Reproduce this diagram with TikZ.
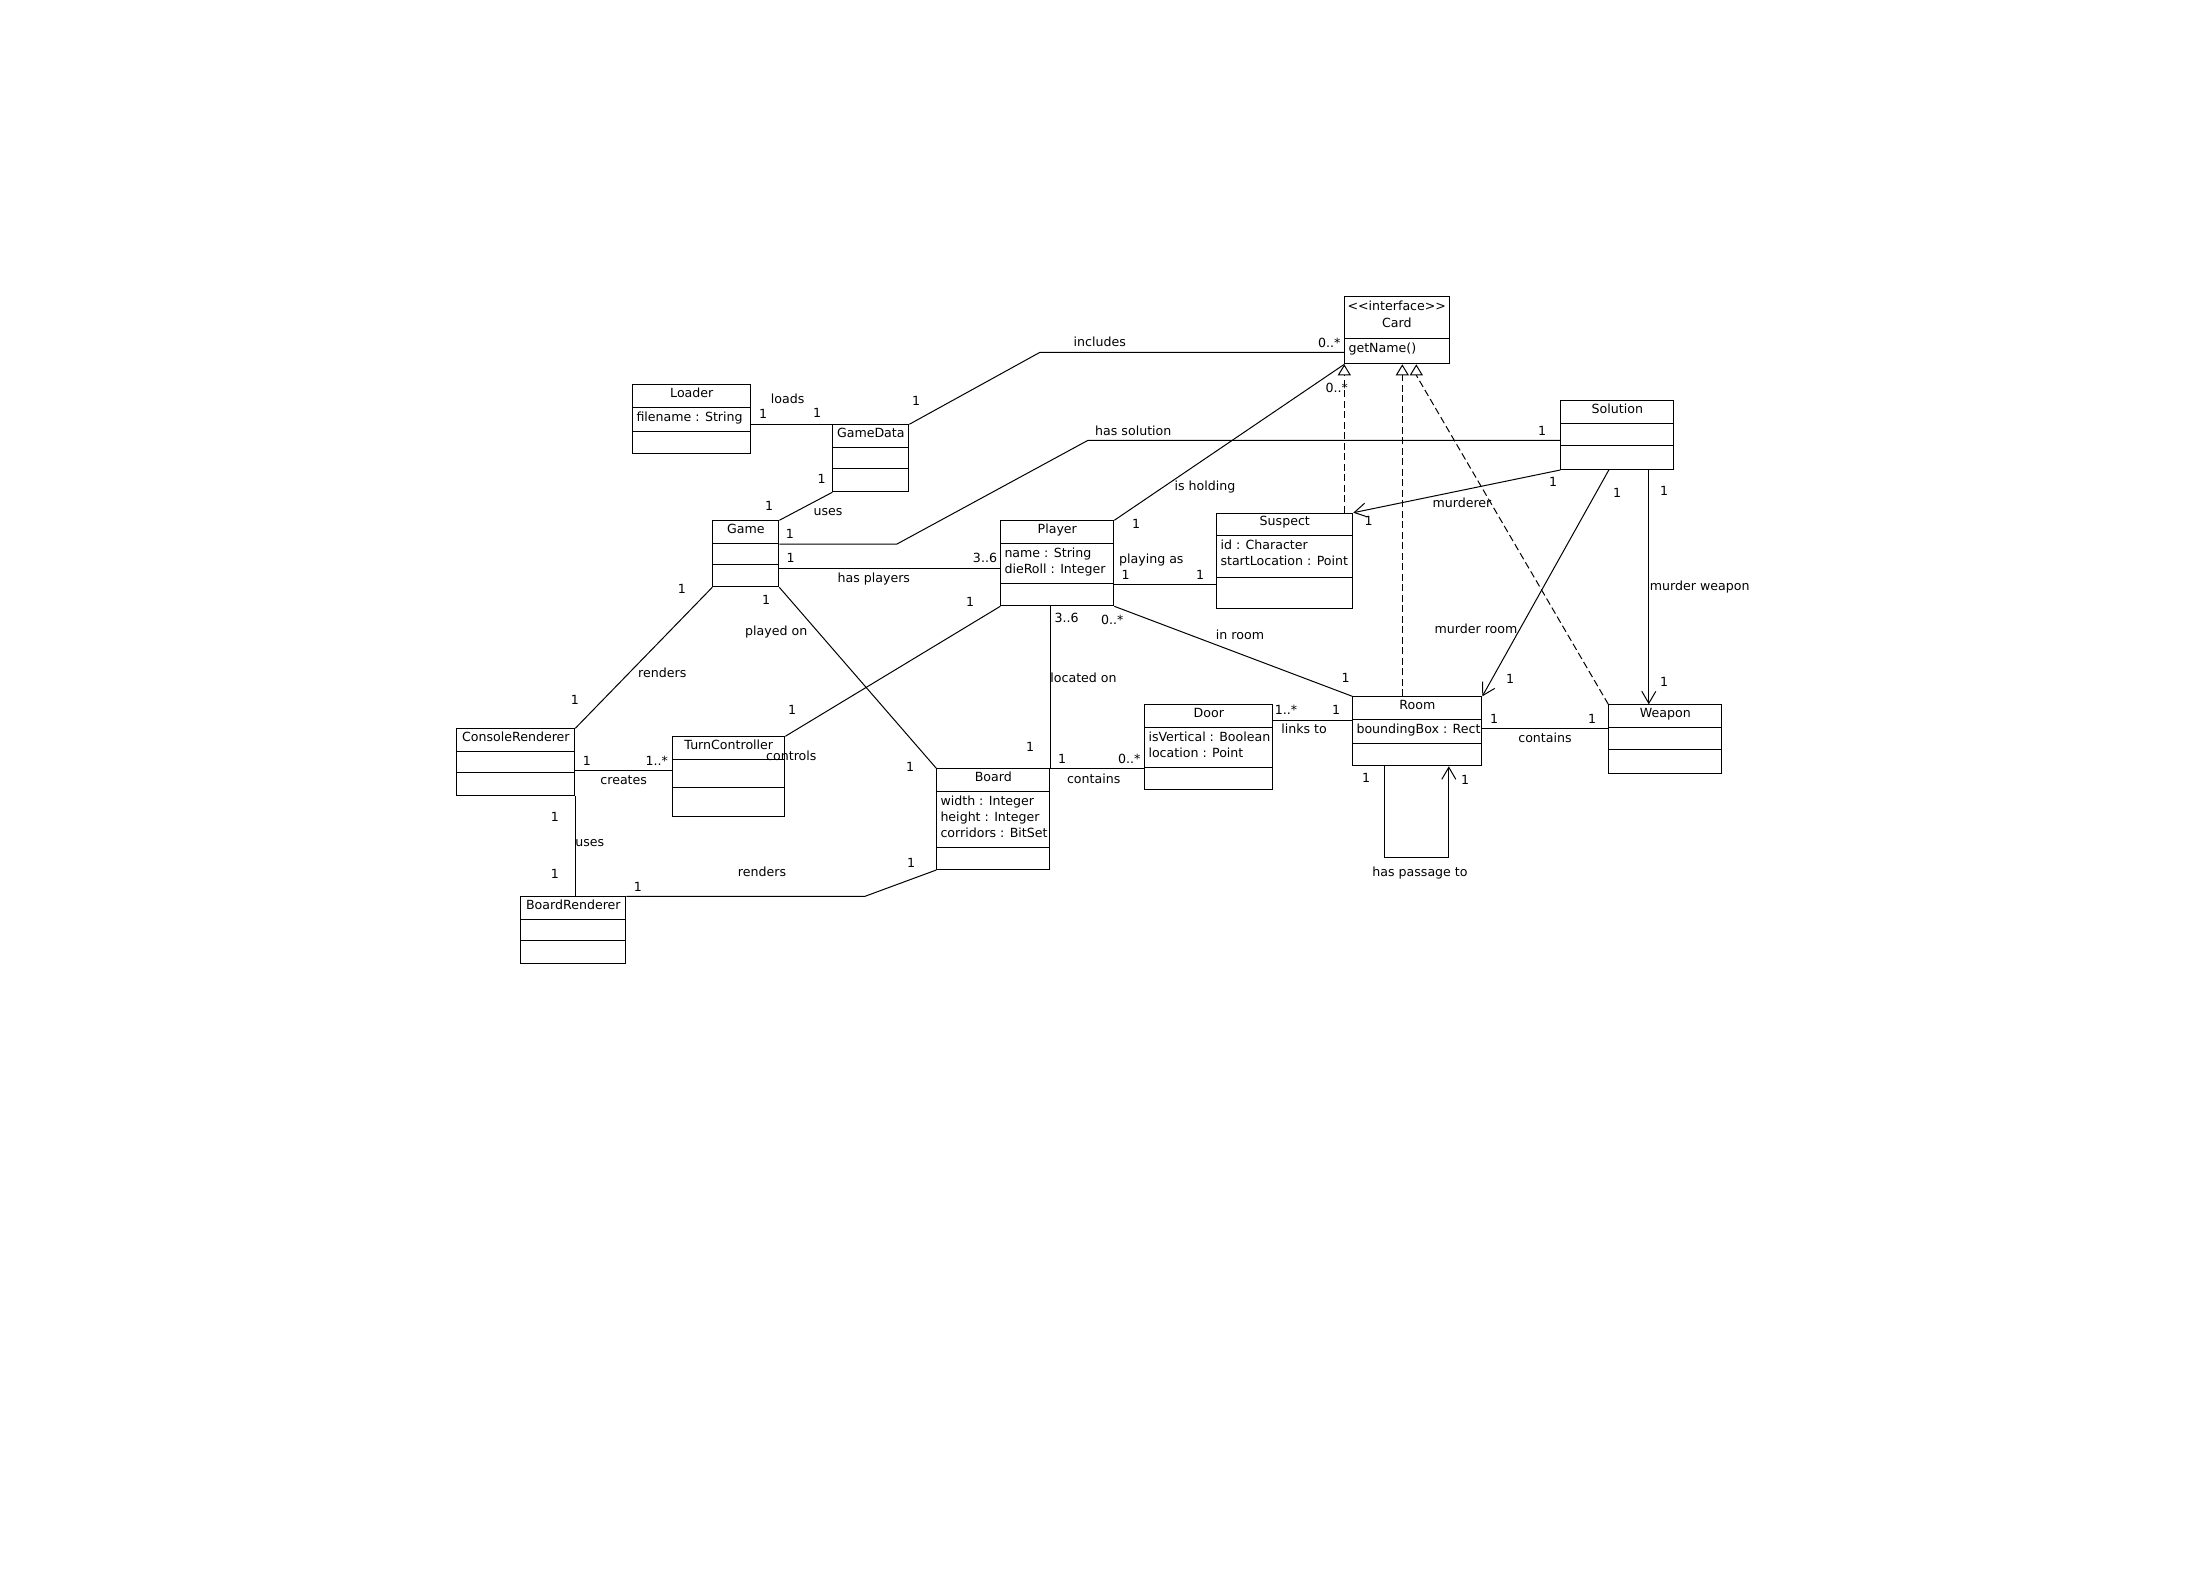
\documentclass[tikz,border=0pt]{standalone}
\usepackage{fontspec}
\setmainfont{DejaVu Sans}
\usetikzlibrary{arrows.meta}

\begin{document}
\begin{tikzpicture}[x=1pt, y=-1pt, line width=1pt,
    font=\fontsize{12.6}{16}\selectfont,
    clsbox/.style={draw, rectangle, anchor=north west, inner sep=0pt},
    clsname/.style={anchor=base, inner sep=0pt},
    attr/.style={anchor=base west, inner sep=0pt},
    lbl/.style={inner sep=0pt, text height=9pt, text depth=0pt},
    nav/.style={-{Straight Barb[length=12pt,width=14pt]}},
    realize/.style={dash pattern=on 7pt off 3.5pt, -{Triangle[open,length=11pt,width=13pt]}}]
    \useasboundingbox (0,0) rectangle (2196,1579);
    \def\umlclass#1#2#3#4#5#6#7#8{%
      \node[clsbox, minimum width=#4pt, minimum height=#5pt+#6pt+#7pt] (#1) at (#2,#3) {};
      \draw ([yshift=-#5pt]#1.north west) -- ([yshift=-#5pt]#1.north east);
      \draw ([yshift=-#5pt-#6pt]#1.north west) -- ([yshift=-#5pt-#6pt]#1.north east);
      \node[clsname] (#1-name) at ([yshift=-13pt]#1.north) {#8};}
    \umlclass{Loader}{632.3}{384.3}{118}{23}{24}{22}{Loader}
    \umlclass{GameData}{832.3}{424.3}{76}{23}{21}{23}{GameData}
    \umlclass{Game}{712.3}{520.3}{66}{23}{21}{22}{Game}
    \umlclass{Player}{1000.3}{520.3}{113}{22.7}{40.7}{21.6}{Player}
    \umlclass{Suspect}{1216.3}{512.7}{136}{22.6}{42}{30.7}{Suspect}
    \umlclass{Solution}{1560.3}{400.3}{113}{23}{22}{23.7}{Solution}
    \umlclass{Room}{1352.3}{696.3}{129}{23}{24}{22}{Room}
    \umlclass{Weapon}{1608.3}{704.3}{113}{23}{22}{24}{Weapon}
    \umlclass{Door}{1144.3}{704.3}{128}{23}{39.7}{22.3}{Door}
    \umlclass{Board}{936.3}{768.3}{113}{23}{56}{21.7}{Board}
    \umlclass{ConsoleRenderer}{456.3}{728.3}{118}{23}{21}{22.7}{ConsoleRenderer}
    \umlclass{TurnController}{672.3}{736.3}{112}{23}{28}{29}{TurnController}
    \umlclass{BoardRenderer}{520.3}{896.3}{105}{23}{21}{22.7}{BoardRenderer}
    \node[clsbox, minimum width=105pt, minimum height=67pt] (Card) at (1344.3,296.3) {};
    \draw ([yshift=-41.7pt]Card.north west) -- ([yshift=-41.7pt]Card.north east);
    \node[clsname] (Card-stereo) at (1396.8,310) {<\kern0pt<interface>\kern0pt>};
    \node[clsname] (Card-name) at (1396.8,327.7) {Card};
    \node[attr] (Card-op) at (1348,352) {getName()};
    \node[attr] (Loader-a1) at (636,421.3) {filename : String};
    \node[attr] (Player-a1) at (1004,557) {name : String};
    \node[attr] (Player-a2) at (1004,573) {dieRoll : Integer};
    \node[attr] (Suspect-a1) at (1220,549.3) {id : Character};
    \node[attr] (Suspect-a2) at (1220,565.3) {startLocation : Point};
    \node[attr] (Room-a1) at (1356,733.3) {boundingBox : Rect};
    \node[attr] (Door-a1) at (1148,741.3) {isVertical : Boolean};
    \node[attr] (Door-a2) at (1148,757.3) {location : Point};
    \node[attr] (Board-a1) at (940,805.3) {width : Integer};
    \node[attr] (Board-a2) at (940,821.3) {height : Integer};
    \node[attr] (Board-a3) at (940,837.3) {corridors : BitSet};
    \coordinate (incB) at (1040,352.3);
    \coordinate (solA) at (897,544);
    \coordinate (solB) at (1088,440.3);
    \coordinate (hpY) at (0,568.3);
    \coordinate (paY) at (0,584.3);
    \coordinate (rwY) at (0,728.3);
    \coordinate (ltY) at (0,720);
    \coordinate (crY) at (0,770.3);
    \coordinate (rB) at (865,896.3);
    \coordinate (tipR) at ([xshift=5pt]Card.south);
    \coordinate (tipW) at ([xshift=19pt]Card.south);
    \coordinate (mwS) at ([xshift=31.5pt]Solution.south);
    \draw (Loader.east |- GameData.north west) -- (GameData.north west);
    \draw (GameData.north east) -- (incB) -- (Card.west |- incB);
    \draw (GameData.south west) -- (Game.north east);
    \draw (Game.east |- solA) -- (solA) -- (solB) -- (Solution.west |- solB);
    \draw (Game.east |- hpY) -- (Player.west |- hpY);
    \draw (Player.north east) -- (Card.south west);
    \draw (Player.east |- paY) -- (Suspect.west |- paY);
    \draw[realize] (Card.south west |- Suspect.north) -- (Card.south west);
    \draw[realize] (Room.north -| tipR) -- (tipR);
    \draw[realize] (Weapon.north west) -- ([yshift=-11pt]tipW) -- (tipW);
    \draw[nav] (Solution.south west) -- (Suspect.north east);
    \draw[nav] ([xshift=-8.5pt]Solution.south) -- (Room.north east);
    \draw[nav] (mwS) -- (Weapon.north -| mwS);
    \draw (Room.east |- rwY) -- (Weapon.west |- rwY);
    \draw[nav] ([xshift=-32.5pt]Room.south) -- ++(0,91) -| ([xshift=31.5pt]Room.south);
    \draw (Door.east |- ltY) -- (Room.west |- ltY);
    \draw (Board.north east) -- (Door.west |- Board.north east);
    \draw (Player.south -| Board.north east) -- (Board.north east);
    \draw (Player.south east) -- (Room.north west);
    \draw (Player.south west) -- (TurnController.north east);
    \draw (Game.south east) -- (Board.north west);
    \draw (Game.south west) -- (ConsoleRenderer.north east);
    \draw (ConsoleRenderer.east |- crY) -- (TurnController.west |- crY);
    \draw (ConsoleRenderer.south east) -- (BoardRenderer.north -| ConsoleRenderer.south east);
    \draw (BoardRenderer.north east) -- (rB) -- (Board.south west);
    \node[lbl] (loads) at (787.7,399.3) {loads};
    \node[lbl] (loads-1a) at (763,414.3) {1};
    \node[lbl] (loads-1b) at (817,413.3) {1};
    \node[lbl] (includes) at (1099.8,341.7) {includes};
    \node[lbl] (includes-1) at (916,400.7) {1};
    \node[lbl] (includes-n) at (1329.3,342.7) {0..*};
    \node[lbl] (usesGD) at (828,510.7) {uses};
    \node[lbl] (usesGD-1a) at (821.7,479.3) {1};
    \node[lbl] (usesGD-1b) at (769,506.3) {1};
    \node[lbl] (hassol) at (1133.3,430.7) {has solution};
    \node[lbl] (hassol-1a) at (790,534.3) {1};
    \node[lbl] (hassol-1b) at (1542,430.7) {1};
    \node[lbl] (hasply) at (873.8,577.7) {has players};
    \node[lbl] (hasply-1) at (790.7,558.3) {1};
    \node[lbl] (hasply-n) at (985,558.3) {3..6};
    \node[lbl] (holding) at (1205,486.3) {is holding};
    \node[lbl] (holding-1) at (1136,523.7) {1};
    \node[lbl] (holding-n) at (1336.7,387.7) {0..*};
    \node[lbl] (playas) at (1151.3,559.3) {playing as};
    \node[lbl] (playas-1a) at (1125.7,574.7) {1};
    \node[lbl] (playas-1b) at (1200,574.7) {1};
    \node[lbl] (murderer) at (1462,503.3) {murderer};
    \node[lbl] (murderer-1a) at (1368.7,521) {1};
    \node[lbl] (murderer-1b) at (1553,482) {1};
    \node[lbl] (mroom) at (1476,628.7) {murder room};
    \node[lbl] (mroom-1a) at (1617,492.7) {1};
    \node[lbl] (mroom-1b) at (1510,678.7) {1};
    \node[lbl] (mweapon) at (1699.7,586.3) {murder weapon};
    \node[lbl] (mweapon-1a) at (1664,490.7) {1};
    \node[lbl] (mweapon-1b) at (1664,682.3) {1};
    \node[lbl] (containsRW) at (1545,737.7) {contains};
    \node[lbl] (containsRW-1a) at (1494,718.7) {1};
    \node[lbl] (containsRW-1b) at (1592,718.7) {1};
    \node[lbl] (passage) at (1420,871.7) {has passage to};
    \node[lbl] (passage-1a) at (1366,777.7) {1};
    \node[lbl] (passage-1b) at (1465,780) {1};
    \node[lbl] (links) at (1304,729.3) {links to};
    \node[lbl] (links-n) at (1286,710) {1..*};
    \node[lbl] (links-1) at (1336,710) {1};
    \node[lbl] (containsBD) at (1093.7,778.7) {contains};
    \node[lbl] (containsBD-1) at (1062,759.3) {1};
    \node[lbl] (containsBD-n) at (1129.3,759.3) {0..*};
    \node[lbl] (located) at (1083.5,678.3) {located on};
    \node[lbl] (located-n) at (1066.7,618.3) {3..6};
    \node[lbl] (located-1) at (1030,746.7) {1};
    \node[lbl] (inroom) at (1240,634.7) {in room};
    \node[lbl] (inroom-n) at (1112.3,620) {0..*};
    \node[lbl] (inroom-1) at (1345.7,677.7) {1};
    \node[lbl] (controls) at (791.3,755.7) {controls};
    \node[lbl] (controls-1a) at (970,602.3) {1};
    \node[lbl] (controls-1b) at (792,710.3) {1};
    \node[lbl] (playedon) at (776.3,630.7) {played on};
    \node[lbl] (playedon-1a) at (766,600.3) {1};
    \node[lbl] (playedon-1b) at (910,766.7) {1};
    \node[lbl] (rendersGC) at (662.3,673.3) {renders};
    \node[lbl] (rendersGC-1a) at (682,589.3) {1};
    \node[lbl] (rendersGC-1b) at (575,699.7) {1};
    \node[lbl] (creates) at (623.7,779.7) {creates};
    \node[lbl] (creates-1) at (587,760.7) {1};
    \node[lbl] (creates-n) at (656.7,760.7) {1..*};
    \node[lbl] (usesCB) at (589.7,841.7) {uses};
    \node[lbl] (usesCB-1a) at (555,816.7) {1};
    \node[lbl] (usesCB-1b) at (555,874.3) {1};
    \node[lbl] (rendersBB) at (762,871.7) {renders};
    \node[lbl] (rendersBB-1a) at (638,886.7) {1};
    \node[lbl] (rendersBB-1b) at (911,862.7) {1};
\end{tikzpicture}
\end{document}
